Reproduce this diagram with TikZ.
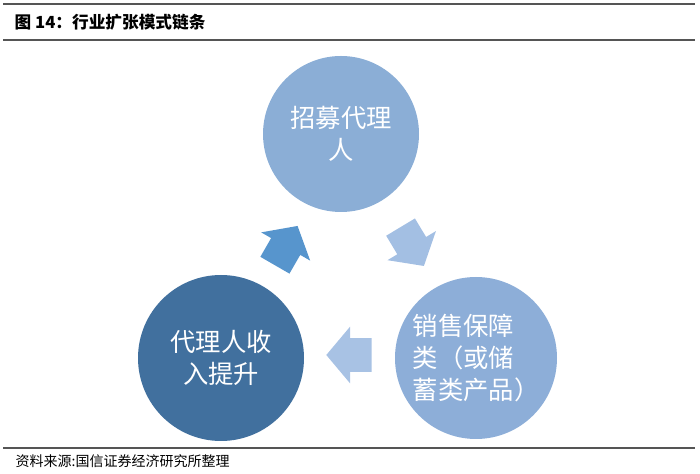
\documentclass[tikz,border=0pt]{standalone}
\usepackage{fontspec}
\setmainfont{Noto Sans CJK SC}
\usepackage{tikz}
\usetikzlibrary{shapes.arrows}

\definecolor{topblue}{HTML}{8BAED6}
\definecolor{sideblue}{HTML}{8DAED8}
\definecolor{darkblue}{HTML}{41709E}
\definecolor{paleblue}{HTML}{A3BFE3}
\definecolor{midblue}{HTML}{5795CD}
\definecolor{rulegray}{HTML}{555555}

\begin{document}
\begin{tikzpicture}[x=0.75pt, y=0.75pt,
  circ/.style={circle, draw=none, text=white, inner sep=0pt,
               font=\fontsize{19}{24}\selectfont},
  flow/.style={single arrow, draw=none, inner xsep=0pt, inner ysep=12.4pt,
               minimum height=34pt, minimum width=42pt,
               single arrow head extend=8.6pt, single arrow tip angle=100},
  rule/.style={draw=rulegray, line width=1pt}
]
  \useasboundingbox (0,0) rectangle (700,474);

  % header and footer
  \coordinate (tl) at (3,470);
  \coordinate (tr) at (695,470);
  \coordinate (ml) at (3,434);
  \coordinate (mr) at (695,434);
  \coordinate (bl) at (3,26);
  \coordinate (br) at (695,26);
  \draw[rule] (tl) -- (tr);
  \draw[rule] (ml) -- (mr);
  \draw[rule] (bl) -- (br);
  \node[anchor=west, font=\fontsize{12.5}{15}\selectfont\bfseries] (title) at (10,452)
    {图 14：行业扩张模式链条};
  \node[anchor=west, font=\fontsize{10.5}{13}\selectfont] (source) at (11,13)
    {资料来源:国信证券经济研究所整理};

  % the three stages
  \node[circ, fill=topblue, minimum size=117pt, align=center] (recruit) at (341,340)
    {招募代理\\人};
  \node[circ, fill=sideblue, minimum size=121.5pt, align=left] (sales) at (476,116)
    {销售保障\\类（或储\\蓄类产品）};
  \node[circ, fill=darkblue, minimum size=124.5pt, align=center] (income) at (221,116)
    {代理人收\\入提升};

  % arrows between them
  \node[flow, fill=paleblue, rotate=-59] (ar1) at (408.6,233.5) {};
  \node[flow, fill=paleblue!95!white, rotate=180] (ar2) at (356,119) {};
  \node[flow, fill=midblue, rotate=60] (ar3) at (282.7,222.3) {};
\end{tikzpicture}
\end{document}
